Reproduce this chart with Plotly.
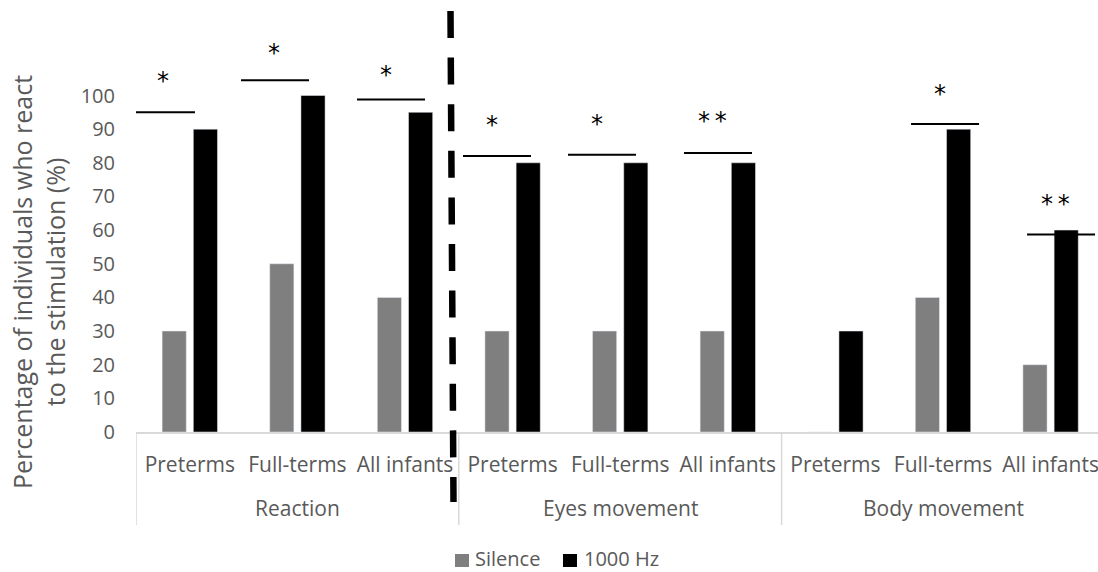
import plotly.graph_objects as go

groups = ["Reaction", "Eyes movement", "Body movement"]
subcats = ["Preterms", "Full-terms", "All infants"]
series_names = ["Silence", "1000 Hz"]
silence = [30, 50, 40, 30, 30, 30, 0, 40, 20]
hz1000 = [90, 100, 95, 80, 80, 80, 30, 90, 60]
y_ticks = [0, 10, 20, 30, 40, 50, 60, 70, 80, 90, 100]
y_title = "Percentage of individuals who react<br>to the stimulation (%)"

# significance markers: (x0, x1, line level, star x, star level, label)
sig_lines = [
    (-0.584, 0.048, 95.0, -0.249, 105.3, "*"),
    (0.476, 1.108, 104.5, 0.783, 113.4, "*"),
    (1.554, 2.186, 98.8, 1.823, 107.1, "*"),
    (2.539, 3.171, 82.0, 2.808, 92.0, "*"),
    (3.515, 4.147, 82.4, 3.784, 92.3, "*"),
    (4.593, 5.225, 82.9, 4.862, 93.2, "*\u2009*"),
    (6.703, 7.335, 91.5, 6.972, 101.2, "*"),
    (7.781, 8.413, 58.7, 8.050, 68.6, "*\u2009*"),
]

n = len(silence)
xs = list(range(n))
ticktext = subcats * len(groups)

FONT = "Open Sans"
GREY_TXT = "#595959"
COLORS = ["#7f7f7f", "#000000"]
PX_PER_UNIT = 3.365
PLOT_H = 432
CAT_W = 107.6
PLOT_L = 136
PLOT_W = 1098 - PLOT_L
x_max = -0.5 + PLOT_W / CAT_W


def px_x(px):
    return (px - PLOT_L) / PLOT_W


def px_y(py):
    return (PLOT_H - py) / PLOT_H


fig = go.Figure()
fig.add_trace(go.Bar(x=xs, y=silence, name=series_names[0], marker_color=COLORS[0]))
fig.add_trace(go.Bar(x=xs, y=hz1000, name=series_names[1], marker_color=COLORS[1]))

shapes = []
annotations = []
for x0, x1, ly, sx, sy, lab in sig_lines:
    shapes.append(dict(type="line", xref="x", yref="y", x0=x0, x1=x1, y0=ly, y1=ly,
                       line=dict(color="black", width=2)))
    annotations.append(dict(x=sx, y=sy, xref="x", yref="y", text=lab, showarrow=False,
                            font=dict(family="DejaVu Sans", size=24, color="black"), yshift=-3))

# group dividers and group labels
for g in range(len(groups)):
    shapes.append(dict(type="line", xref="x", yref="paper", x0=g * 3 - 0.5, x1=g * 3 - 0.5,
                       y0=0, y1=px_y(525), line=dict(color="#d9d9d9", width=1.5)))
for g, name in enumerate(groups):
    annotations.append(dict(x=g * 3 + 1, y=px_y(508), xref="x", yref="paper", text=name,
                            showarrow=False, yanchor="middle",
                            font=dict(family=FONT, size=21, color=GREY_TXT)))

# y-axis title
annotations.append(dict(x=px_x(38), y=px_y(282), xref="paper", yref="paper", text=y_title,
                        textangle=-90, showarrow=False, xanchor="center", yanchor="middle",
                        font=dict(family=FONT, size=25, color=GREY_TXT)))

# legend (drawn below the axis)
leg_items = [(455, 474), (563, 583)]
for (sq_x, tx_x), name, col in zip(leg_items, series_names, COLORS):
    shapes.append(dict(type="rect", xref="paper", yref="paper",
                       x0=px_x(sq_x), x1=px_x(sq_x + 14), y0=px_y(554), y1=px_y(567),
                       fillcolor=col, line=dict(width=0)))
    annotations.append(dict(x=px_x(tx_x), y=px_y(558), xref="paper", yref="paper", text=name,
                            showarrow=False, xanchor="left", yanchor="middle", borderpad=0,
                            font=dict(family=FONT, size=20, color=GREY_TXT)))

# dashed separator
shapes.append(dict(type="line", xref="paper", yref="paper",
                   x0=px_x(450.5), x1=px_x(453.5), y0=px_y(11), y1=px_y(502),
                   line=dict(color="black", width=6.5, dash="27px,19.6px")))

fig.update_layout(
    width=1098, height=572,
    margin=dict(l=PLOT_L, r=0, t=0, b=572 - PLOT_H),
    paper_bgcolor="white", plot_bgcolor="white",
    barmode="group", bargap=0.42, bargroupgap=0.226,
    showlegend=False,
    font=dict(family=FONT, color=GREY_TXT, size=20),
    xaxis=dict(range=[-0.5, x_max], tickvals=xs, ticktext=ticktext, showgrid=False,
               showline=True, linecolor="#d9d9d9", linewidth=1.5, ticks="",
               ticklabelstandoff=13, ticklabeloverflow="allow",
               tickfont=dict(family=FONT, size=21, color=GREY_TXT), zeroline=False),
    yaxis=dict(range=[0, PLOT_H / PX_PER_UNIT], tickvals=y_ticks, showgrid=False, showline=False,
               zeroline=False, ticks="", ticklabelstandoff=20,
               tickfont=dict(family=FONT, size=20, color=GREY_TXT)),
    shapes=shapes, annotations=annotations,
)

fig.write_html("out.html", config={"displayModeBar": False},
               post_script="document.body.style.margin='0';")
